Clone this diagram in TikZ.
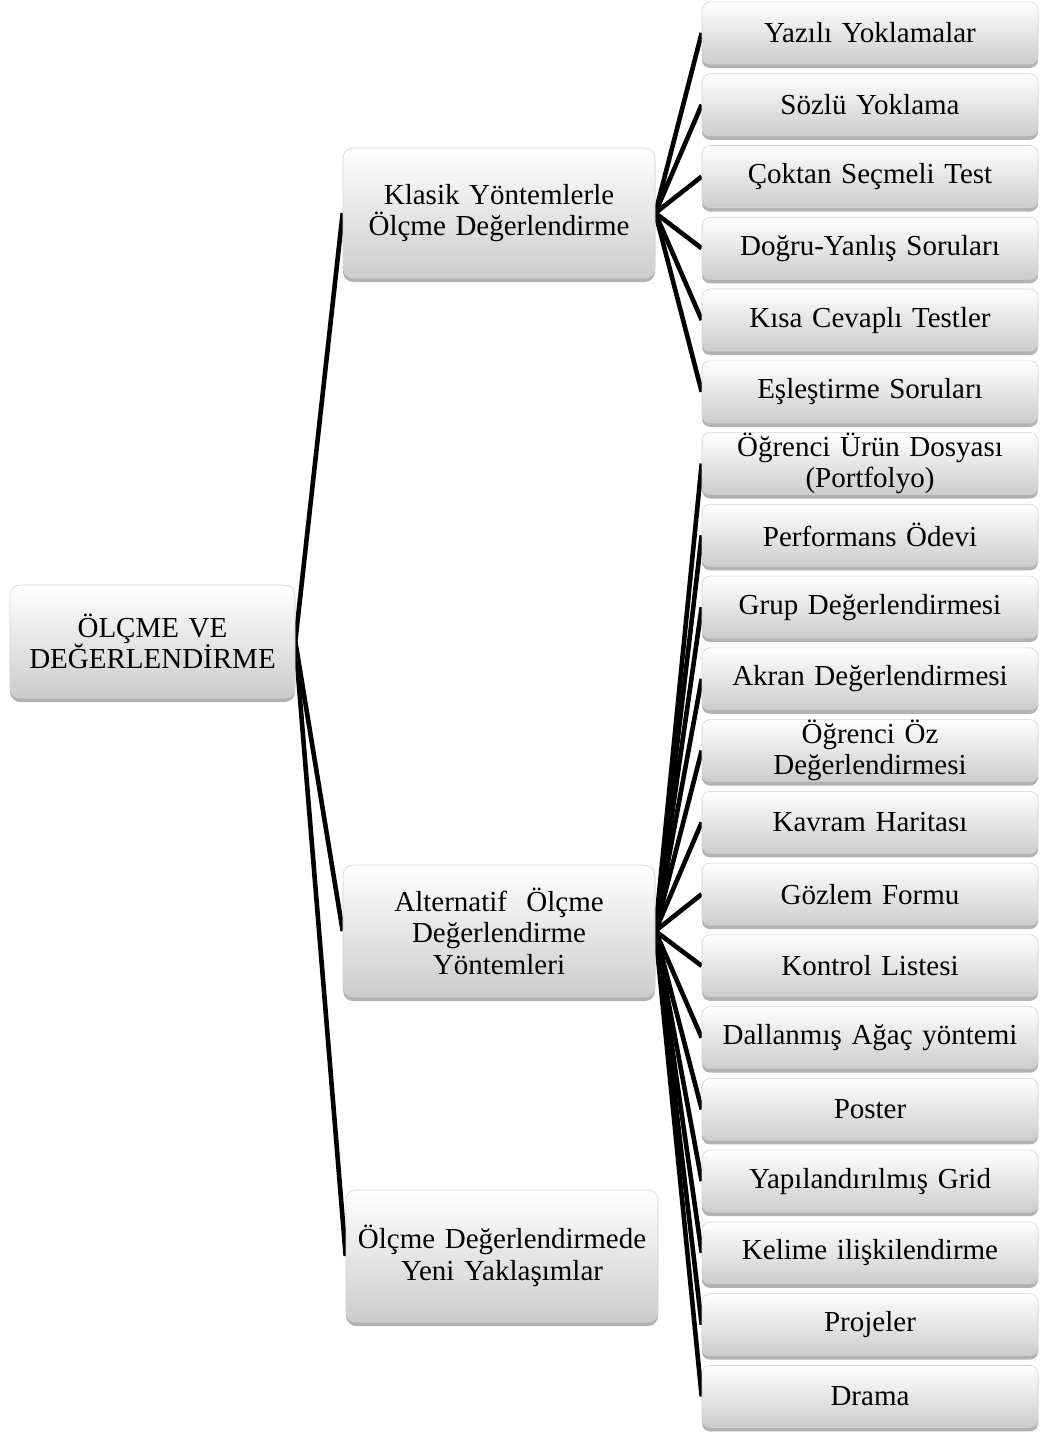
\documentclass[tikz,border=0pt]{standalone}
\usepackage{fontspec}
\setmainfont{Liberation Serif}
\usetikzlibrary{shadows,backgrounds}
\begin{document}
\begin{tikzpicture}[x=1pt,y=-1pt,
  box/.style={rounded corners=10pt, draw=gray!35, line width=0.6pt,
    top color=white, bottom color=black!20, inner sep=0pt, align=center,
    font=\fontsize{29}{31.5}\selectfont,
    drop shadow={shadow xshift=0pt, shadow yshift=-4pt, opacity=0.5, fill=black!60}},
  leafbox/.style={box, minimum width=336pt, minimum height=62pt, text width=336pt, rounded corners=8pt},
  conn/.style={line width=4.6pt, black}]
\useasboundingbox (0,0) rectangle (1045,1432);
\node[box, minimum width=285pt, minimum height=113pt, text width=285pt] (root) at (152.5,641.5) {ÖLÇME VE\\DEĞERLENDİRME};
\node[box, minimum width=312pt, minimum height=130pt, text width=312pt] (k) at (499,213) {Klasik Yöntemlerle\\Ölçme Değerlendirme};
\node[box, minimum width=312pt, minimum height=132pt, text width=312pt] (a) at (499,931) {Alternatif\ \ Ölçme\\Değerlendirme\\Yöntemleri};
\node[box, minimum width=312pt, minimum height=132pt, text width=312pt] (y) at (502,1256) {Ölçme Değerlendirmede\\Yeni Yaklaşımlar};
\foreach \t [count=\i] in {Yazılı Yoklamalar, Sözlü Yoklama, Çoktan Seçmeli Test, Doğru-Yanlış Soruları, Kısa Cevaplı Testler, Eşleştirme Soruları, {Öğrenci Ürün Dosyası\\(Portfolyo)}, Performans Ödevi, Grup Değerlendirmesi, Akran Değerlendirmesi, {Öğrenci Öz\\Değerlendirmesi}, Kavram Haritası, Gözlem Formu, Kontrol Listesi, Dallanmış Ağaç yöntemi, Poster, Yapılandırılmış Grid, Kelime ilişkilendirme, Projeler, Drama}
  \node[leafbox] (l\i) at (870,{33+(\i-1)*71.76}) {\t};
\begin{scope}[on background layer]
\draw[conn] (root.east) -- (k.west);
\draw[conn] (root.east) -- (a.west);
\draw[conn] (root.east) -- (y.west);
\foreach \i in {1,...,6} \draw[conn] (k.east) -- (l\i.west);
\foreach \i in {7,...,20} \draw[conn] (a.east) -- (l\i.west);
\end{scope}
\end{tikzpicture}
\end{document}
